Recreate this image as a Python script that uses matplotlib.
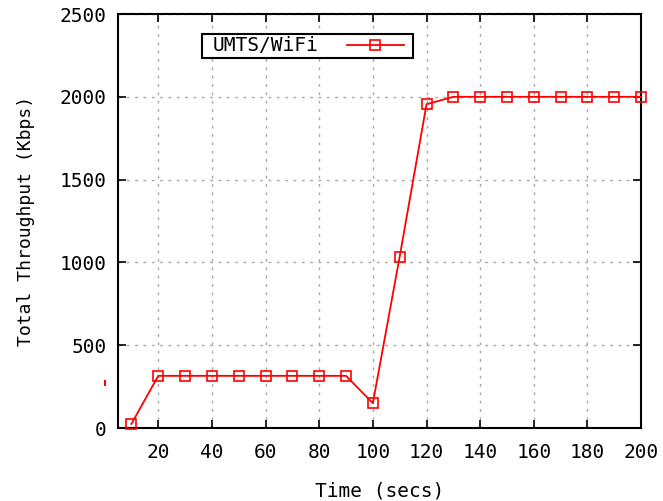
import matplotlib
matplotlib.use("Agg")
import matplotlib.pyplot as plt
from matplotlib.patches import Rectangle

# Throughput samples over time
time_secs = [10, 20, 30, 40, 50, 60, 70, 80, 90, 100, 110, 120, 130, 140, 150, 160, 170, 180, 190, 200]
throughput_kbps = [25, 315, 315, 315, 315, 315, 315, 315, 315, 150, 1035, 1955,
                   2000, 2000, 2000, 2000, 2000, 2000, 2000, 2000]
series_label = "UMTS/WiFi"
x_ticks = [20, 40, 60, 80, 100, 120, 140, 160, 180, 200]
y_ticks = [0, 500, 1000, 1500, 2000, 2500]

# small stray red tick left of the y axis
stray_x = [0]
stray_y = [270]

plt.rcParams['font.family'] = ['DejaVu Sans Mono']

fig = plt.figure(figsize=(6.63, 5.01), dpi=100)
ax = fig.add_axes([0.178, 0.1457, 0.789, 0.8263])

ax.plot(time_secs, throughput_kbps, color='red', lw=1.3, marker='s', ms=6.5,
        mfc='none', mec='red', mew=1.2, label=series_label, clip_on=False, zorder=3)
ax.plot(stray_x, stray_y, linestyle='none', marker='|', ms=4, mew=1.5,
        color='red', clip_on=False)

ax.set_xlim(5, 200)
ax.set_ylim(0, 2500)
ax.set_xticks(x_ticks)
ax.set_yticks(y_ticks)
ax.tick_params(direction='in', length=6, width=1.2, top=True, right=True,
               labelsize=14, colors='black')
ax.tick_params(axis='x', pad=11)
ax.tick_params(axis='y', pad=8)
ax.grid(True, color='#a8a8a8', linestyle=(0, (2, 4)), linewidth=1.0)
for sp in ax.spines.values():
    sp.set_linewidth(1.5)

ax.set_xlabel("Time (secs)", fontsize=14, labelpad=14)
ax.set_ylabel("Total Throughput (Kbps)", fontsize=13, labelpad=18)

# key box, drawn separately so the text can sit with wider side padding
ax.add_patch(Rectangle((0.1606, 0.894), 0.4034, 0.058, transform=ax.transAxes,
                       fill=True, facecolor='white', edgecolor='black', lw=1.5,
                       zorder=4))
leg = ax.legend(loc='center left', bbox_to_anchor=(0.1816, 0.923), markerfirst=False,
                fontsize=14, frameon=False, handlelength=2.95, borderpad=0,
                handletextpad=1.44, borderaxespad=0)
leg.set_zorder(5)

fig.savefig("out.png", dpi=100)
